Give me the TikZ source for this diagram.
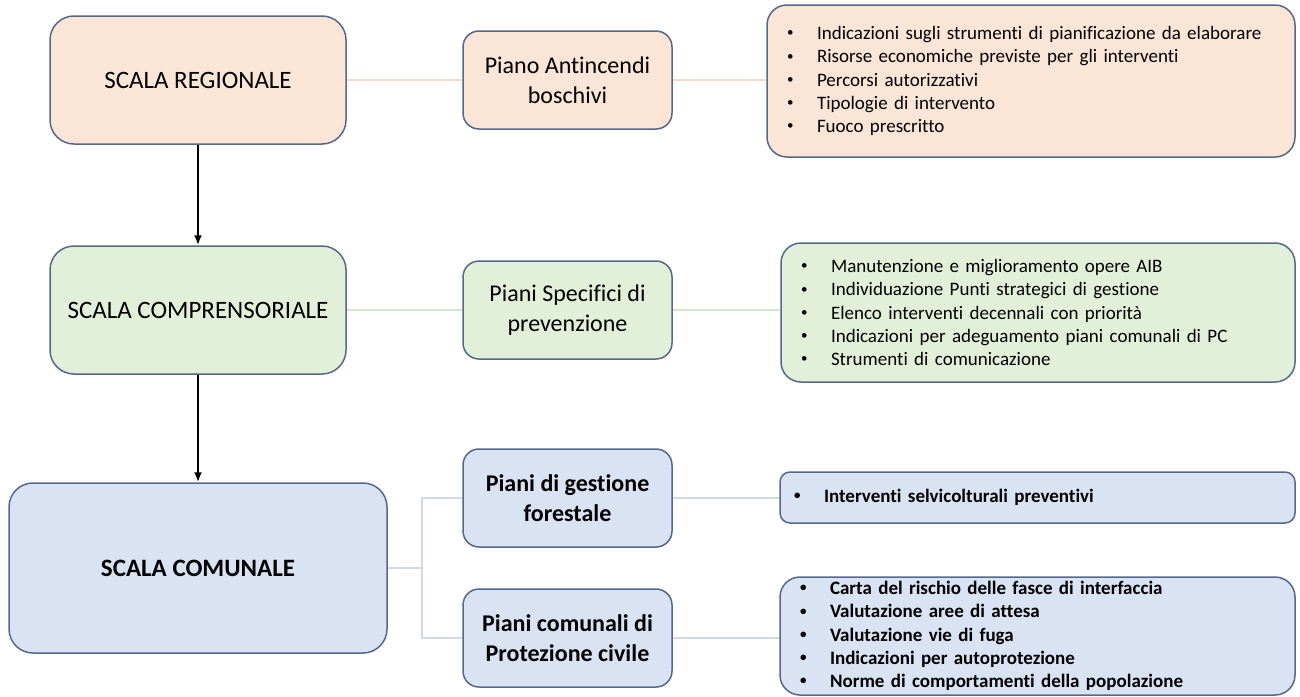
\documentclass[tikz,border=0pt]{standalone}
\usepackage{fontspec}
\setmainfont{Carlito}[Ligatures=NoCommon]
\usepackage{tikz}
\usetikzlibrary{arrows.meta}

\definecolor{peach}{HTML}{FBE5D6}
\definecolor{sage}{HTML}{E2F0D9}
\definecolor{sky}{HTML}{DAE3F3}
\definecolor{frame}{HTML}{56688A}
\definecolor{peachline}{HTML}{F6D9C7}
\definecolor{sageline}{HTML}{D3E6C8}
\definecolor{skyline}{HTML}{CFD9E8}

\newcommand{\itm}{\makebox[15pt][l]{\raisebox{1.4pt}{\fontsize{6.5}{6.5}\selectfont\textbullet}}}

\begin{document}
\begin{tikzpicture}[x=0.5pt,y=-0.5pt,
	scala/.style={draw=frame, line width=0.75pt, rounded corners=12pt, align=center,
		minimum width=148pt, minimum height=64pt, font=\fontsize{12.5}{15}\selectfont},
	piano/.style={draw=frame, line width=0.75pt, rounded corners=8pt, align=center,
		minimum width=104.5pt, minimum height=49pt, inner sep=2pt, font=\fontsize{12}{15}\selectfont},
	lista/.style={draw=frame, line width=0.75pt, rounded corners=10pt, align=left,
		inner xsep=10pt, inner ysep=0pt, font=\fontsize{9.5}{11.6}\selectfont},
	link/.style={line width=1pt},
	freccia/.style={line width=1pt, -{Latex[length=5pt,width=4pt]}}]
	\useasboundingbox (0,0) rectangle (1300,696);
	% Scale
	\node[scala, fill=peach] (reg) at (198,80) {SCALA REGIONALE};
	\node[scala, fill=sage] (comp) at (198,310) {SCALA COMPRENSORIALE};
	\node[scala, fill=sky, minimum width=189pt, minimum height=85pt, font=\fontsize{12.5}{15}\selectfont\bfseries] (com) at (198,568) {SCALA COMUNALE};
	% Piani
	\node[piano, fill=peach] (pab) at (567.5,80) {Piano Antincendi\\boschivi};
	\node[piano, fill=sage] (psp) at (567.5,310) {Piani Specifici di\\prevenzione};
	\node[piano, fill=sky, font=\fontsize{12}{15}\selectfont\bfseries] (pgf) at (567.5,498) {Piani di gestione\\forestale};
	\node[piano, fill=sky, font=\fontsize{12}{15}\selectfont\bfseries] (pcp) at (567.5,638) {Piani comunali di\\Protezione civile};
	% Contenuti
	\node[lista, fill=peach, text width=244pt, minimum height=76pt] (l1) at (1031,81) {%
		\itm Indicazioni sugli strumenti di pianificazione da elaborare\\
		\itm Risorse economiche previste per gli interventi\\
		\itm Percorsi autorizzativi\\
		\itm Tipologie di intervento\\
		\itm Fuoco prescritto};
	\node[lista, fill=sage, text width=237pt, minimum height=69.5pt] (l2) at (1038,312.5) {%
		\itm Manutenzione e miglioramento opere AIB\\
		\itm Individuazione Punti strategici di gestione\\
		\itm Elenco interventi decennali con priorità\\
		\itm Indicazioni per adeguamento piani comunali di PC\\
		\itm Strumenti di comunicazione};
	\node[lista, fill=sky, text width=243.5pt, inner xsep=7pt, minimum height=25.5pt, rounded corners=5pt,
		font=\fontsize{9.5}{11.6}\selectfont\bfseries] (l3) at (1037.5,497.5) {%
		\itm Interventi selvicolturali preventivi};
	\node[lista, fill=sky, text width=237.5pt, minimum height=59pt,
		font=\fontsize{9.5}{11.6}\selectfont\bfseries] (l4) at (1037.5,636) {%
		\itm Carta del rischio delle fasce di interfaccia\\
		\itm Valutazione aree di attesa\\
		\itm Valutazione vie di fuga\\
		\itm Indicazioni per autoprotezione\\
		\itm Norme di comportamenti della popolazione};
	% Collegamenti
	\draw[link, peachline] (reg.east) -- (pab.west);
	\draw[link, peachline] (pab.east) -- (pab.east -| l1.west);
	\draw[link, sageline] (comp.east) -- (psp.west);
	\draw[link, sageline] (psp.east) -- (psp.east -| l2.west);
	\coordinate (fork) at (422,568);
	\draw[link, skyline] (com.east) -- (fork);
	\draw[link, skyline] (pgf.west) -| (fork) |- (pcp.west);
	\draw[link, skyline] (pgf.east) -- (pgf.east -| l3.west);
	\draw[link, skyline] (pcp.east) -- (pcp.east -| l4.west);
	\draw[freccia] (reg.south) -- (comp.north);
	\draw[freccia] (comp.south) -- (com.north);
\end{tikzpicture}
\end{document}
